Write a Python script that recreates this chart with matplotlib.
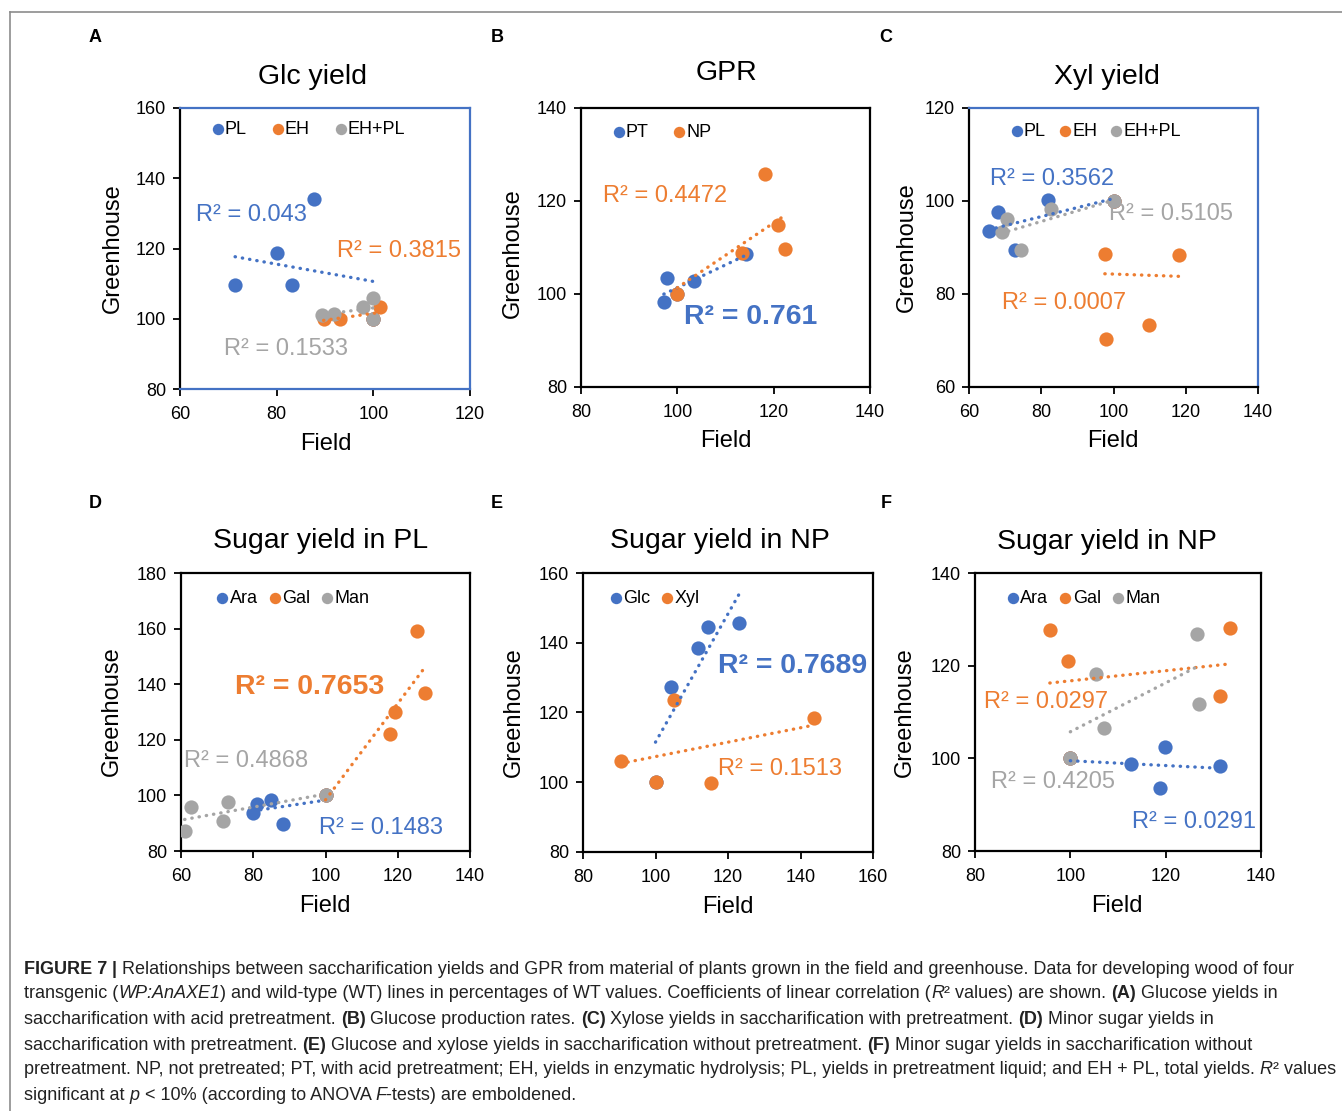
import matplotlib
matplotlib.use('Agg')
import matplotlib.pyplot as plt
import numpy as np
from matplotlib.lines import Line2D

W, H = 1342, 1111
plt.rcParams['font.family'] = ['Liberation Sans', 'DejaVu Sans']

BLUE = '#4472C4'
ORANGE = '#ED7D31'
GRAY = '#A5A5A5'

# A: Glc yield (field vs greenhouse, % of WT)
a_pl_x = [71.4, 80.1, 83.2, 87.7, 100.0]
a_pl_y = [109.5, 118.8, 109.7, 134.2, 100.0]
a_eh_x = [89.7, 93.2, 100.0, 101.3]
a_eh_y = [100.0, 99.8, 100.0, 103.3]
a_ehpl_x = [89.3, 91.9, 97.9, 99.9, 100.0]
a_ehpl_y = [101.2, 101.4, 103.3, 105.8, 100.0]

# B: GPR
b_pt_x = [97.2, 97.8, 100.0, 103.5, 114.2]
b_pt_y = [98.2, 103.4, 100.0, 102.9, 108.5]
b_np_x = [100.0, 113.5, 118.2, 121.0, 122.4]
b_np_y = [100.0, 108.8, 125.8, 114.8, 109.7]

# C: Xyl yield
c_pl_x = [65.5, 67.9, 72.8, 81.8, 100.0]
c_pl_y = [93.6, 97.6, 89.5, 100.2, 100.0]
c_eh_x = [97.6, 97.8, 100.0, 109.7, 118.2]
c_eh_y = [88.7, 70.4, 100.0, 73.3, 88.4]
c_ehpl_x = [69.0, 70.4, 74.5, 82.6, 100.0]
c_ehpl_y = [93.3, 96.1, 89.5, 98.3, 100.0]

# D: Sugar yield in PL
d_ara_x = [80.0, 81.1, 85.0, 88.2, 100.0]
d_ara_y = [93.7, 97.0, 98.2, 89.8, 100.0]
d_gal_x = [100.0, 117.9, 119.3, 125.2, 127.6]
d_gal_y = [100.0, 122.1, 130.1, 159.0, 136.7]
d_man_x = [61.0, 62.9, 71.5, 73.1, 100.0]
d_man_y = [87.3, 95.8, 90.8, 97.7, 100.0]

# E: Sugar yield in NP (Glc, Xyl)
e_glc_x = [100.0, 104.3, 111.7, 114.5, 123.1]
e_glc_y = [100.0, 127.3, 138.6, 144.4, 145.8]
e_xyl_x = [90.4, 100.0, 105.2, 115.3, 143.8]
e_xyl_y = [106.1, 100.0, 123.7, 99.8, 118.5]

# F: Sugar yield in NP (minor sugars)
f_ara_x = [100.0, 112.7, 118.9, 119.9, 131.5]
f_ara_y = [100.0, 98.8, 93.6, 102.4, 98.3]
f_gal_x = [95.7, 99.6, 100.0, 131.3, 133.5]
f_gal_y = [127.6, 121.0, 100.0, 113.5, 128.1]
f_man_x = [100.0, 105.4, 107.1, 126.6, 126.9]
f_man_y = [100.0, 118.3, 106.6, 126.9, 111.7]

panels = [
	dict(letter='A', letter_xy=(95, 38), title='Glc yield', title_xy=(313, 77),
		rect=(180, 470, 108, 389), xlim=(60, 120), ylim=(80, 160),
		series=[('PL', a_pl_x, a_pl_y, BLUE), ('EH', a_eh_x, a_eh_y, ORANGE), ('EH+PL', a_ehpl_x, a_ehpl_y, GRAY)],
		r2=[('R² = 0.043', 63.3, 129.4, BLUE, False), ('R² = 0.3815', 92.5, 119.2, ORANGE, False),
			('R² = 0.1533', 69.2, 91.4, GRAY, False)],
		leg=(0.105, 0.955), colsp=1.3,
		spines=dict(left='black', bottom=BLUE, top=BLUE, right=BLUE),
		ylab_xy=(113, 248), xlab_xy=(326, 444)),
	dict(letter='B', letter_xy=(497, 38), title='GPR', title_xy=(726, 73),
		rect=(581, 870, 108, 387), xlim=(80, 140), ylim=(80, 140),
		series=[('PT', b_pt_x, b_pt_y, BLUE), ('NP', b_np_x, b_np_y, ORANGE)],
		r2=[('R² = 0.4472', 84.5, 121.0, ORANGE, False), ('R² = 0.761', 101.4, 95.0, BLUE, True)],
		leg=(0.105, 0.943), colsp=1.3,
		spines=dict(left='black', bottom='black', top='black', right='black'),
		ylab_xy=(513, 253), xlab_xy=(726, 441)),
	dict(letter='C', letter_xy=(886, 38), title='Xyl yield', title_xy=(1107, 77),
		rect=(969, 1258, 108, 387), xlim=(60, 140), ylim=(60, 120),
		series=[('PL', c_pl_x, c_pl_y, BLUE), ('EH', c_eh_x, c_eh_y, ORANGE), ('EH+PL', c_ehpl_x, c_ehpl_y, GRAY)],
		r2=[('R² = 0.3562', 65.7, 104.8, BLUE, False), ('R² = 0.5105', 98.8, 97.1, GRAY, False),
			('R² = 0.0007', 69.0, 78.1, ORANGE, False)],
		leg=(0.14, 0.946), colsp=0.65,
		spines=dict(left='black', bottom='black', top=BLUE, right=BLUE),
		ylab_xy=(907, 247), xlab_xy=(1113, 441)),
	dict(letter='D', letter_xy=(95, 503), title='Sugar yield in PL', title_xy=(321, 541),
		rect=(181, 470, 573, 851), xlim=(60, 140), ylim=(80, 180),
		series=[('Ara', d_ara_x, d_ara_y, BLUE), ('Gal', d_gal_x, d_gal_y, ORANGE), ('Man', d_man_x, d_man_y, GRAY)],
		r2=[('R² = 0.7653', 75.0, 139.0, ORANGE, True), ('R² = 0.4868', 60.9, 112.3, GRAY, False),
			('R² = 0.1483', 98.2, 88.4, BLUE, False)],
		leg=(0.118, 0.94), colsp=0.55,
		spines=dict(left='black', bottom='black', top='black', right='black'),
		ylab_xy=(112, 711), xlab_xy=(325, 906)),
	dict(letter='E', letter_xy=(497, 503), title='Sugar yield in NP', title_xy=(720, 541),
		rect=(583, 873, 573, 852), xlim=(80, 160), ylim=(80, 160),
		series=[('Glc', e_glc_x, e_glc_y, BLUE), ('Xyl', e_xyl_x, e_xyl_y, ORANGE)],
		r2=[('R² = 0.7689', 117.3, 133.2, BLUE, True), ('R² = 0.1513', 117.2, 103.9, ORANGE, False)],
		leg=(0.09, 0.94), colsp=0.5,
		spines=dict(left='black', bottom='black', top='black', right='black'),
		ylab_xy=(514, 712), xlab_xy=(728, 907)),
	dict(letter='F', letter_xy=(886, 503), title='Sugar yield in NP', title_xy=(1107, 542),
		rect=(975, 1261, 573, 851), xlim=(80, 140), ylim=(80, 140),
		series=[('Ara', f_ara_x, f_ara_y, BLUE), ('Gal', f_gal_x, f_gal_y, ORANGE), ('Man', f_man_x, f_man_y, GRAY)],
		r2=[('R² = 0.0297', 81.9, 112.2, ORANGE, False), ('R² = 0.4205', 83.3, 95.0, GRAY, False),
			('R² = 0.0291', 112.9, 86.3, BLUE, False)],
		leg=(0.108, 0.94), colsp=0.55,
		spines=dict(left='black', bottom='black', top='black', right='black'),
		ylab_xy=(905, 712), xlab_xy=(1117, 906)),
]

caption_lines = [
	[('FIGURE 7', 'bold', 'normal'), (' | ', 'bold', 'normal'),
		('Relationships between saccharification yields and GPR from material of plants grown in the field and greenhouse. Data for developing wood of four', 'normal', 'normal')],
	[('transgenic (', 'normal', 'normal'), ('WP:AnAXE1', 'normal', 'italic'),
		(') and wild-type (WT) lines in percentages of WT values. Coefficients of linear correlation (', 'normal', 'normal'),
		('R', 'normal', 'italic'), ('² values) are shown. ', 'normal', 'normal'), ('(A)', 'bold', 'normal'),
		(' Glucose yields in', 'normal', 'normal')],
	[('saccharification with acid pretreatment. ', 'normal', 'normal'), ('(B)', 'bold', 'normal'),
		(' Glucose production rates. ', 'normal', 'normal'), ('(C)', 'bold', 'normal'),
		(' Xylose yields in saccharification with pretreatment. ', 'normal', 'normal'), ('(D)', 'bold', 'normal'),
		(' Minor sugar yields in', 'normal', 'normal')],
	[('saccharification with pretreatment. ', 'normal', 'normal'), ('(E)', 'bold', 'normal'),
		(' Glucose and xylose yields in saccharification without pretreatment. ', 'normal', 'normal'),
		('(F)', 'bold', 'normal'), (' Minor sugar yields in saccharification without', 'normal', 'normal')],
	[('pretreatment. NP, not pretreated; PT, with acid pretreatment; EH, yields in enzymatic hydrolysis; PL, yields in pretreatment liquid; and EH + PL, total yields. ', 'normal', 'normal'),
		('R', 'normal', 'italic'), ('² values', 'normal', 'normal')],
	[('significant at ', 'normal', 'normal'), ('p', 'normal', 'italic'),
		(' < 10% (according to ANOVA ', 'normal', 'normal'), ('F', 'normal', 'italic'),
		('-tests) are emboldened.', 'normal', 'normal')],
]
caption_y = [969, 994, 1020, 1045, 1070, 1096]
# right edge of the first and fifth caption line in the reference
caption_right = {0: 1307, 4: 1334}
CAP_FONT = ['Liberation Sans Narrow', 'Liberation Sans', 'DejaVu Sans']


def fx(x):
	return x / W


def fy(y):
	return 1 - y / H


fig = plt.figure(figsize=(W / 100, H / 100), dpi=100)
renderer = fig.canvas.get_renderer()

# frame lines around the figure area
fig.add_artist(Line2D([fx(10), fx(10)], [0, fy(12)], transform=fig.transFigure, color='#8c8c8c', lw=1.2))
fig.add_artist(Line2D([fx(10), 1], [fy(12), fy(12)], transform=fig.transFigure, color='#8c8c8c', lw=1.2))

for p in panels:
	l, r, t, b = p['rect']
	ax = fig.add_axes([fx(l), fy(b), (r - l) / W, (b - t) / H])
	for label, xs, ys, color in p['series']:
		ax.scatter(xs, ys, s=105, color=color, label=label, linewidths=0, zorder=3)
	for label, xs, ys, color in p['series']:
		k, c0 = np.polyfit(xs, ys, 1)
		xx = np.array([min(xs), max(xs)])
		ax.plot(xx, k * xx + c0, color=color, lw=2.4, linestyle=(0, (0.1, 2.1)),
			dash_capstyle='round', zorder=4)
	for text, x, y, color, bold in p['r2']:
		ax.text(x, y, text, color=color, fontsize=20.5 if bold else 17,
			fontweight='bold' if bold else 'normal', ha='left', va='center', zorder=5)
	ax.set_xlim(*p['xlim'])
	ax.set_ylim(*p['ylim'])
	ax.set_xticks(np.arange(p['xlim'][0], p['xlim'][1] + 1, 20))
	ax.set_yticks(np.arange(p['ylim'][0], p['ylim'][1] + 1, 20))
	ax.tick_params(direction='out', length=5, width=1.3, labelsize=13, color='black')
	ax.tick_params(axis='x', pad=7)
	ax.tick_params(axis='y', pad=5)
	for side, color in p['spines'].items():
		ax.spines[side].set_color(color)
		ax.spines[side].set_linewidth(1.6)
	ax.legend(loc='upper left', bbox_to_anchor=p['leg'], ncol=len(p['series']), frameon=False,
		fontsize=13, handletextpad=0.0, columnspacing=p['colsp'], handlelength=0.8,
		borderpad=0, borderaxespad=0, markerscale=0.8, scatterpoints=1)

	fig.text(fx(p['letter_xy'][0]), fy(p['letter_xy'][1]), p['letter'], fontsize=13,
		fontweight='bold', ha='center', va='center')
	fig.text(fx(p['title_xy'][0]), fy(p['title_xy'][1]), p['title'], fontsize=20.5,
		ha='center', va='center')
	fig.text(fx(p['ylab_xy'][0]), fy(p['ylab_xy'][1]), 'Greenhouse', fontsize=17,
		rotation=90, ha='center', va='center')
	fig.text(fx(p['xlab_xy'][0]), fy(p['xlab_xy'][1]), 'Field', fontsize=17,
		ha='center', va='center')


def text_width(s, size, weight, style):
	# width measured between two bars so that spaces at the ends count
	t = fig.text(0, 0, '|' + s + '|', fontsize=size, fontweight=weight, fontstyle=style, family=CAP_FONT)
	t2 = fig.text(0, 0, '||', fontsize=size, fontweight=weight, fontstyle=style, family=CAP_FONT)
	w = t.get_window_extent(renderer).width - t2.get_window_extent(renderer).width
	t.remove()
	t2.remove()
	return w


base = 13
cap_size = base
for i, right in caption_right.items():
	w = sum(text_width(s, base, wt, st) for s, wt, st in caption_lines[i])
	cap_size = min(cap_size, base * (right - 24) / w)

for parts, y in zip(caption_lines, caption_y):
	x = 24
	for s, wt, st in parts:
		fig.text(fx(x), fy(y), s, fontsize=cap_size, fontweight=wt, fontstyle=st,
			family=CAP_FONT, ha='left', va='center', color='#222222')
		x += text_width(s, cap_size, wt, st)

fig.savefig('out.png', dpi=100)
